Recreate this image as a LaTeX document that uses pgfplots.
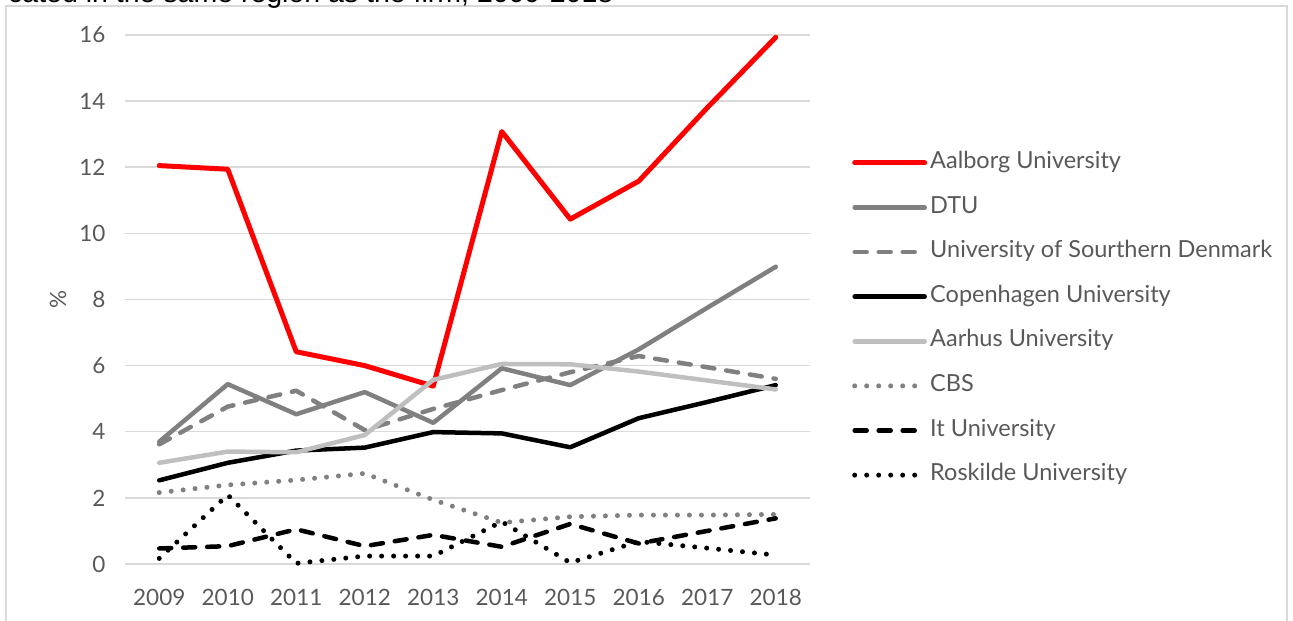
\documentclass[border=0pt]{standalone}
\usepackage{pgfplots}
\pgfplotsset{compat=1.18}
\usepackage{fontspec}
\setmainfont{Lato}
\newfontfamily\titlefont{Liberation Sans}
\definecolor{gridc}{HTML}{D9D9D9}
\definecolor{txt}{HTML}{595959}
\definecolor{midgray}{HTML}{808080}
\definecolor{lightg}{HTML}{BFBFBF}
\definecolor{aalred}{HTML}{FF0000}

\begin{document}
\begin{tikzpicture}
\draw[gridc, line width=1.5pt] (6pt,-20pt) -- (6pt,615pt) -- (1287pt,615pt) -- (1287pt,-20pt);
\node[anchor=base west, inner sep=0pt, font=\titlefont\fontsize{28.5}{30}\selectfont] at (8pt,618.5pt) {cated in the same region as the firm, 2009-2018};
\begin{axis}[
  at={(125pt,57pt)}, anchor=south west,
  scale only axis, width=685pt, height=529pt,
  xmin=2008.5, xmax=2018.5, ymin=0, ymax=16,
  xtick={2009,2010,2011,2012,2013,2014,2015,2016,2017,2018},
  ytick={0,2,4,6,8,10,12,14,16},
  axis line style={draw=none}, major tick length=0pt,
  ymajorgrids, grid style={gridc, line width=1.5pt},
  clip=false,
  /pgf/number format/assume math mode=true,
  /pgf/number format/1000 sep={},
  tick label style={font=\fontsize{22.5}{26}\selectfont, text=txt},
  yticklabel style={xshift=-16pt},
  xticklabel style={yshift=-22pt},
  ylabel={\%},
  ylabel style={at={(rel axis cs:-0.0978,0.5)}, anchor=center, font=\fontsize{22.5}{26}\selectfont, text=txt},
  legend cell align=left,
  legend style={at={(rel axis cs:1.0613,0.4631)}, anchor=west, draw=none, fill=none,
    inner sep=0pt, row sep=23.6pt, font=\fontsize{23.5}{26}\selectfont, text=txt,
    nodes={inner sep=0pt, text height=16pt, text depth=5pt},
    /tikz/every odd column/.append style={column sep=3pt}},
  legend image code/.code={\draw[#1] (0pt,0pt) -- (70pt,0pt);},
  every axis plot/.append style={line cap=round, line join=round},
]
\addplot[aalred, line width=5pt] coordinates {
 (2009,12.05) (2010,11.94) (2011,6.42) (2012,6.0) (2013,5.38) (2014,13.08) (2015,10.43) (2016,11.58) (2017,13.8) (2018,15.93)};
\addlegendentry{Aalborg University}
\addplot[midgray, line width=4.5pt] coordinates {
 (2009,3.70) (2010,5.44) (2011,4.53) (2012,5.2) (2013,4.27) (2014,5.92) (2015,5.41) (2016,6.49) (2017,7.75) (2018,8.99)};
\addlegendentry{DTU}
\addplot[midgray, line width=4.5pt, dash pattern=on 12pt off 12pt] coordinates {
 (2009,3.62) (2010,4.76) (2011,5.24) (2012,4.05) (2013,4.69) (2014,5.26) (2015,5.8) (2016,6.29) (2017,5.95) (2018,5.6)};
\addlegendentry{University of Sourthern Denmark}
\addplot[black, line width=4.5pt] coordinates {
 (2009,2.53) (2010,3.06) (2011,3.43) (2012,3.52) (2013,3.99) (2014,3.95) (2015,3.53) (2016,4.41) (2017,4.9) (2018,5.41)};
\addlegendentry{Copenhagen University}
\addplot[lightg, line width=4.5pt] coordinates {
 (2009,3.06) (2010,3.40) (2011,3.38) (2012,3.90) (2013,5.57) (2014,6.05) (2015,6.04) (2016,5.82) (2017,5.55) (2018,5.28)};
\addlegendentry{Aarhus University}
\addplot[midgray, line width=5pt, dash pattern=on 0pt off 12pt] coordinates {
 (2009,2.16) (2010,2.39) (2011,2.54) (2012,2.74) (2013,1.94) (2014,1.25) (2015,1.43) (2016,1.48) (2017,1.48) (2018,1.5)};
\addlegendentry{CBS}
\addplot[black, line width=4.5pt, dash pattern=on 12pt off 12pt] coordinates {
 (2009,0.47) (2010,0.54) (2011,1.05) (2012,0.54) (2013,0.88) (2014,0.52) (2015,1.21) (2016,0.62) (2017,1.0) (2018,1.38)};
\addlegendentry{It University}
\addplot[black, line width=5pt, dash pattern=on 0pt off 12pt] coordinates {
 (2009,0.17) (2010,2.09) (2011,0.02) (2012,0.24) (2013,0.24) (2014,1.28) (2015,0.04) (2016,0.68) (2017,0.48) (2018,0.27)};
\addlegendentry{Roskilde University}
\end{axis}
\pgfresetboundingbox
\useasboundingbox (0pt,0pt) rectangle (1293pt,621pt);
\end{tikzpicture}
\end{document}
